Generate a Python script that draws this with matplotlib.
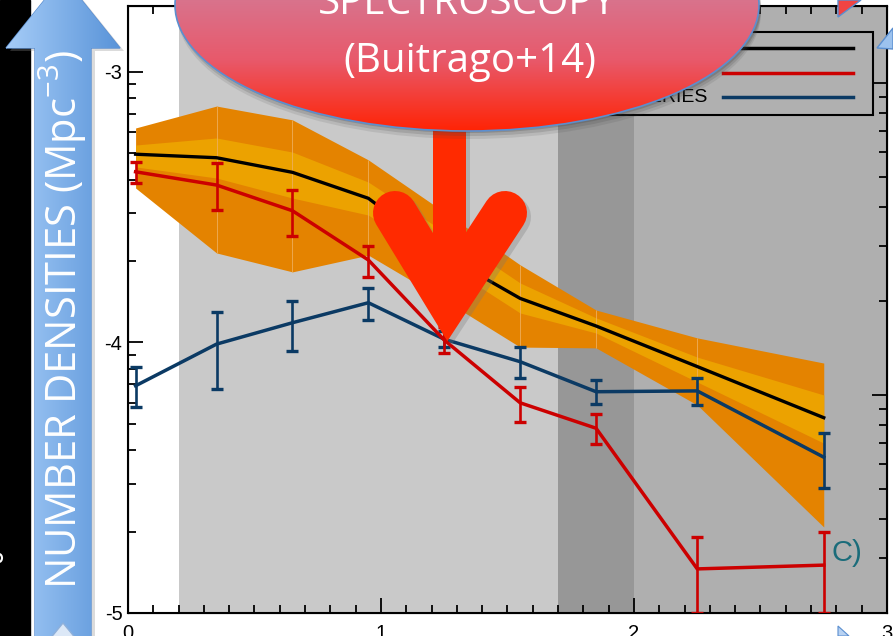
import numpy as np
import matplotlib.pyplot as plt
from matplotlib.patches import Ellipse, Polygon, Rectangle

plt.rcParams['axes.unicode_minus'] = False
plt.rcParams['font.family'] = ['Liberation Sans', 'DejaVu Sans']

# --- data (log10 number densities, Mpc^-3) ---
redshift = [0.03, 0.35, 0.65, 0.95, 1.25, 1.55, 1.85, 2.25, 2.75]

model = [-3.304, -3.317, -3.371, -3.467, -3.677, -3.837, -3.939, -4.089, -4.278]
model_outer_hi = [-3.207, -3.126, -3.177, -3.325, -3.518, -3.713, -3.880, -3.983, -4.076]
model_outer_lo = [-3.429, -3.669, -3.739, -3.677, -3.843, -4.017, -4.020, -4.231, -4.682]
model_inner_hi = [-3.270, -3.244, -3.296, -3.407, -3.591, -3.780, -3.909, -4.054, -4.194]
model_inner_lo = [-3.351, -3.392, -3.466, -3.529, -3.710, -3.891, -3.965, -4.146, -4.372]

red_val = [-3.369, -3.418, -3.513, -3.695, -3.991, -4.223, -4.317, -4.837, -4.823]
red_hi = [-3.332, -3.338, -3.436, -3.643, -3.943, -4.163, -4.264, -4.720, -4.699]
red_lo = [-3.409, -3.510, -3.606, -3.757, -4.040, -4.293, -4.376, -5.000, -5.000]

blue_val = [-4.160, -4.006, -3.927, -3.853, -3.988, -4.071, -4.182, -4.179, -4.424]
blue_hi = [-4.089, -3.886, -3.847, -3.797, -3.957, -4.018, -4.139, -4.130, -4.336]
blue_lo = [-4.240, -4.172, -4.031, -3.917, -4.017, -4.130, -4.227, -4.231, -4.539]

legend_labels = ['SIMULATION', 'SPHEROIDS', 'DISK SERIES']
bands = [(0.2, 1.7, '#c9c9c9'), (1.7, 2.0, '#979797'), (2.0, 3.0, '#afafaf')]

RED = '#cc0000'
BLUE = '#0b3a64'

fig = plt.figure(figsize=(8.93, 6.36), dpi=100)
fig.patch.set_facecolor('white')
ax = fig.add_axes([128 / 893, 23 / 636, 759 / 893, 607.3 / 636])
ax.set_facecolor('white')

for x0, x1, c in bands:
    ax.axvspan(x0, x1, color=c, lw=0, zorder=0)

ax.fill_between(redshift, model_outer_lo, model_outer_hi, color='#e48300', lw=0, zorder=1)
ax.fill_between(redshift, model_inner_lo, model_inner_hi, color='#eca200', lw=0, zorder=2)
# faint polygon seams at the bin centres
ax.vlines(redshift[1:-1], model_outer_lo[1:-1], model_outer_hi[1:-1],
          color='#eeae5a', lw=0.6, zorder=2.5)
ax.plot(redshift, model, color='black', lw=2.4, zorder=3)


def err(vals, hi, lo):
    v = np.array(vals)
    return [v - np.array(lo), np.array(hi) - v]


ax.errorbar(redshift, blue_val, yerr=err(blue_val, blue_hi, blue_lo), color=BLUE,
            lw=2.5, elinewidth=1.9, capsize=4, capthick=2.4, zorder=4)
ax.errorbar(redshift, red_val, yerr=err(red_val, red_hi, red_lo), color=RED,
            lw=2.5, elinewidth=1.9, capsize=4, capthick=2.4, zorder=5)

ax.text(2.78, -4.78, 'C)', color='#1b6c7a', fontsize=21, ha='left', va='center', zorder=6)

# legend box drawn IDL-style (labels left of the lines)
ax.add_patch(Rectangle((0.516, 0.820), 0.465, 0.1367, transform=ax.transAxes,
                       facecolor='#b0b0b0', edgecolor='black', lw=1.5, zorder=7))
for i, (lab, col) in enumerate(zip(legend_labels, ['black', RED, BLUE])):
    yy = 0.930 - i * 0.0405
    ax.plot([0.784, 0.955], [yy, yy], color=col, lw=2.5, transform=ax.transAxes, zorder=8)
    ax.text(0.763, yy, lab, transform=ax.transAxes, ha='right', va='center',
            fontsize=14, zorder=8)

ax.set_xlim(0, 3)
ax.set_ylim(-5.0, -2.755)
ax.set_xticks([0, 1, 2, 3])
ax.set_xticks(np.arange(0, 3.01, 0.1), minor=True)
ax.set_yticks([-5, -4, -3])
ax.set_yticklabels(['-5', '-4', '-3'])
ax.set_xticklabels(['0', '1', '2', '3'])
ymin = [n + np.log10(k) for n in (-5, -4) for k in range(2, 10)]
ax.set_yticks(ymin, minor=True)
ax.tick_params(which='both', direction='in', top=True, right=False, width=1.3,
               labelsize=14.5, colors='black')
ax.tick_params(which='major', length=10.8)
ax.tick_params(which='minor', length=5.8)
ax.tick_params(axis='x', pad=8)
ax.tick_params(axis='y', pad=4)
for s in ax.spines.values():
    s.set_linewidth(1.5)

# right axis has its own log scale, ticks only
ax2 = ax.twinx()
ax2.set_ylim(-4.699, -2.752)
ax2.set_yticks([-4, -3])
ax2.set_yticks([n + np.log10(k) for n in (-5, -4) for k in range(2, 10)
                if -4.699 < n + np.log10(k) < -2.752], minor=True)
ax2.tick_params(which='both', direction='in', labelright=False, width=1.3)
ax2.tick_params(which='major', length=10.8)
ax2.tick_params(which='minor', length=5.8)
ax2.tick_params(axis='x', which='both', top=False, bottom=False)

# --- slide overlays, in pixel coordinates ---
ov = fig.add_axes([0, 0, 1, 1], zorder=10)
ov.axis('off')

ov.add_patch(Rectangle((0, 0), 30, 636, color='black'))
ov.add_patch(Ellipse((-1, 558), 6, 8, facecolor='none', edgecolor='white', lw=1.5))

arrow_pts = [(6, 48), (63, -23), (120, 48), (91, 48), (91, 640), (35, 640), (35, 48)]
ov.add_patch(Polygon([(x + 4, y + 3) for x, y in arrow_pts], color='#888888', alpha=0.3, lw=0))
blue_arrow = Polygon(arrow_pts, closed=True, facecolor='none', edgecolor='#5a8ed0', lw=1)
ov.add_patch(blue_arrow)
t = np.linspace(0, 1, 128)
c0, c1 = np.array([0.65, 0.80, 0.97]), np.array([0.35, 0.58, 0.85])
grad = (c0[None, :] * (1 - t)[:, None] + c1[None, :] * t[:, None])[None, :, :]
im = ov.imshow(grad, extent=(6, 120, 640, -23), aspect='auto', zorder=1)
im.set_clip_path(blue_arrow)
ov.add_patch(Polygon([(49, 640), (63, 623), (77, 640)], facecolor='#dce8f7',
                     edgecolor='#8fb0da', lw=1, zorder=2))
ov.text(63, 320, 'NUMBER DENSITIES (Mpc$^{\\mathregular{-3}}$)', rotation=90, color='white',
        fontsize=30, family='Open Sans', ha='center', va='center', zorder=3)

# red arrow: shaft + chevron
ov.add_patch(Rectangle((437, 124), 33, 180, color='#777777', alpha=0.3, lw=0, zorder=3))
ov.plot([399, 452, 509], [217, 304, 217], color='#777777', alpha=0.3, lw=31.7,
        solid_capstyle='round', solid_joinstyle='miter', zorder=3)
ov.add_patch(Rectangle((433, 120), 33, 180, color='#ff2a00', lw=0, zorder=4))
ov.plot([395, 448, 505], [213, 300, 213], color='#ff2a00', lw=31.7,
        solid_capstyle='round', solid_joinstyle='miter', zorder=4)

# callout ellipse with gradient
for k, al in [(8, 0.12), (5, 0.18), (2, 0.25)]:
    ov.add_patch(Ellipse((469, 5 + k), 584, 252, color='#444444', alpha=al, lw=0, zorder=5))
callout = Ellipse((467, 5), 584, 252, facecolor='none', edgecolor='#5b8fd0', lw=1.2, zorder=7)
ov.add_patch(callout)
yy = np.linspace(-121, 131, 256)
stops = [-121, 0, 60, 131]
cols = np.array([[0.85, 0.47, 0.59], [0.85, 0.45, 0.55], [0.91, 0.35, 0.42], [1.0, 0.14, 0.02]])
vgrad = np.stack([np.interp(yy, stops, cols[:, j]) for j in range(3)], axis=1)[:, None, :]
im2 = ov.imshow(vgrad, extent=(175, 759, 131, -121), aspect='auto', zorder=6)
im2.set_clip_path(callout)
ov.text(467, 14, 'SPECTROSCOPY', color='white', fontsize=29, family='Open Sans',
        ha='center', va='baseline', zorder=8)
ov.text(470, 72, '(Buitrago+14)', color='white', fontsize=29, family='Open Sans',
        ha='center', va='baseline', zorder=8)

# small stray shapes at the slide edges
ov.add_patch(Polygon([(838, 0), (861, 0), (838, 17)], facecolor='#f04444',
                     edgecolor='#5b8fd0', lw=1, zorder=8))
ov.add_patch(Polygon([(877, 48), (893, 28), (893, 49)], facecolor='#9cc2ee',
                     edgecolor='#5b8fd0', lw=1, zorder=8))
ov.add_patch(Polygon([(838, 626), (849, 636), (838, 636)], facecolor='#b8d2f2',
                     edgecolor='#5b8fd0', lw=0.8, zorder=8))

ov.set_xlim(0, 893)
ov.set_ylim(636, 0)

fig.savefig('out.png', dpi=100)
